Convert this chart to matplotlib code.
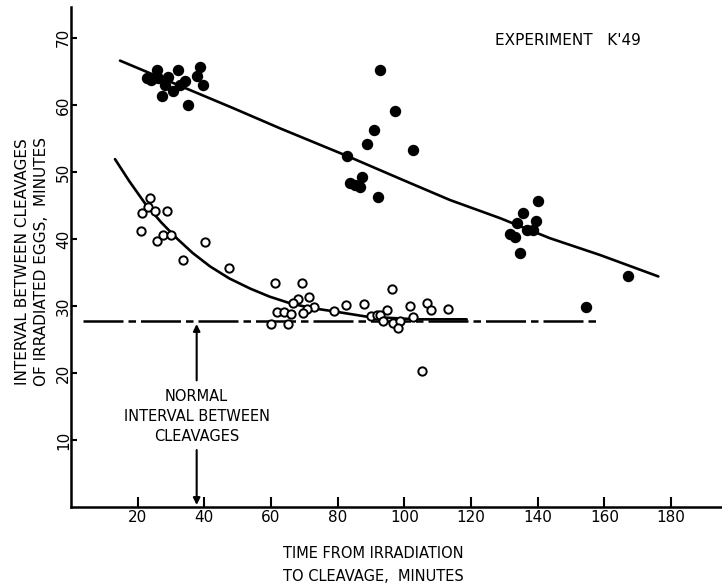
import numpy as np
import matplotlib
matplotlib.use('Agg')
import matplotlib.pyplot as plt

# filled dots (upper series)
filled_x = [22.7, 24.0, 25.7, 26.1, 29.1, 32.1, 38.7, 37.7, 39.6, 34.2, 32.7, 30.6, 27.2, 35.1, 28.2,
            92.7, 97.2, 91.0, 88.9, 102.5, 82.7, 83.7, 85.2, 86.7, 87.2, 92.0,
            140.2, 135.5, 133.7, 139.5, 136.9, 138.7, 131.7, 133.2, 134.7, 167.0, 154.5]
filled_y = [64.0, 63.7, 65.2, 64.0, 64.2, 65.2, 65.7, 64.3, 62.9, 63.5, 62.9, 62.0, 61.3, 60.0, 62.9,
            65.2, 59.1, 56.3, 54.1, 53.3, 52.4, 48.3, 48.1, 47.8, 49.2, 46.2,
            45.6, 43.8, 42.4, 42.6, 41.4, 41.3, 40.8, 40.3, 37.9, 34.4, 29.9]

# open circles (lower series)
open_x = [23.7, 23.0, 21.4, 25.2, 28.9, 20.9, 25.7, 27.7, 29.9, 40.2, 33.7, 47.4,
          61.2, 69.2, 96.2, 71.5, 68.2, 66.5, 82.4, 88.0, 106.7, 101.7, 108.0, 113.2,
          73.0, 70.7, 78.9, 94.7, 61.7, 63.9, 65.9, 69.7, 89.9, 91.7, 92.7, 102.7,
          59.9, 65.2, 93.7, 96.7, 98.7, 98.0, 105.2]
open_y = [46.1, 44.8, 43.8, 44.2, 44.2, 41.2, 39.7, 40.6, 40.6, 39.6, 36.8, 35.6,
          33.4, 33.4, 32.5, 31.4, 31.0, 30.4, 30.1, 30.3, 30.5, 30.0, 29.4, 29.6,
          29.8, 29.6, 29.3, 29.4, 29.1, 29.1, 28.8, 28.9, 28.5, 28.7, 28.7, 28.4,
          27.3, 27.3, 27.7, 27.5, 27.7, 26.7, 20.3]

# hand drawn fitted curves
fit1_x = [14.7, 30, 48.7, 62.7, 82.7, 100, 113.7, 128.7, 143.7, 158.7, 176.2]
fit1_y = [66.6, 63.4, 59.5, 56.5, 52.4, 48.7, 45.8, 43.1, 40.1, 37.6, 34.4]
fit2_x = [13.2, 17.5, 22.2, 27.0, 31.7, 36.5, 41.7, 47.5, 53.7, 59.5, 65.7, 72.0, 78.7, 88.7, 103.7, 118.7]
fit2_y = [51.9, 48.6, 45.3, 42.5, 40.1, 37.9, 35.9, 34.1, 32.6, 31.4, 30.4, 29.7, 29.2, 28.4, 28.0, 28.0]

# normal interval
normal_y = 27.7
normal_x = [3.6, 157.7]
arrow_x = 37.7

xticks = [20, 40, 60, 80, 100, 120, 140, 160, 180]
yticks = [10, 20, 30, 40, 50, 60, 70]

plt.rcParams['font.family'] = 'DejaVu Sans'

fig = plt.figure(figsize=(7.22, 5.88), dpi=100)
ax = fig.add_axes([71/722, 81/588, 651/722, 500/588])

ax.plot(fit1_x, fit1_y, color='black', lw=1.9, solid_capstyle='round', solid_joinstyle='round')
ax.plot(fit2_x, fit2_y, color='black', lw=1.9, solid_capstyle='round', solid_joinstyle='round')
ax.plot(normal_x, [normal_y, normal_y], color='black', lw=1.8, dashes=(16, 2, 3, 2))

ax.plot(filled_x, filled_y, 'o', color='black', ms=7.2, zorder=3)
ax.plot(open_x, open_y, 'o', mfc='white', mec='black', mew=1.4, ms=6.0, zorder=3)

# arrows to the normal interval text
ax.annotate('', xy=(arrow_x, normal_y - 0.4), xytext=(arrow_x, 18.9),
            arrowprops=dict(arrowstyle='-|>', color='black', lw=1.5, mutation_scale=10, shrinkA=0, shrinkB=0))
ax.annotate('', xy=(arrow_x, 0.3), xytext=(arrow_x, 8.5),
            arrowprops=dict(arrowstyle='-|>', color='black', lw=1.5, mutation_scale=10, shrinkA=0, shrinkB=0))
ax.text(arrow_x, 13.5, 'NORMAL\nINTERVAL BETWEEN\nCLEAVAGES', ha='center', va='center',
        fontsize=10.5, linespacing=1.45)

ax.set_xlim(0, 195.3)
ax.set_ylim(0, 74.6)
ax.spines['top'].set_visible(False)
ax.spines['right'].set_visible(False)
ax.spines['left'].set_linewidth(1.8)
ax.spines['bottom'].set_linewidth(1.8)

ax.set_xticks(xticks)
ax.set_xticklabels([str(t) for t in xticks], fontsize=11)
ax.set_yticks(yticks)
ax.set_yticklabels([str(t) for t in yticks], fontsize=11, rotation=90, va='center')
ax.tick_params(axis='x', direction='in', length=7, width=1.5, pad=2)
ax.tick_params(axis='y', direction='in', length=4, width=1.5, pad=0)

fig.text(32/722, 1 - 262/588, 'INTERVAL BETWEEN CLEAVAGES\nOF IRRADIATED EGGS,  MINUTES',
         rotation=90, ha='center', va='center', fontsize=11, linespacing=1.35)
fig.text(373/722, 1 - 565/588, 'TIME FROM IRRADIATION\nTO CLEAVAGE,  MINUTES',
         ha='center', va='center', fontsize=10.5, linespacing=1.6)
fig.text(495/722, 1 - 45/588, "EXPERIMENT   K'49", ha='left', va='baseline', fontsize=11)

fig.savefig('out.png', dpi=100)
